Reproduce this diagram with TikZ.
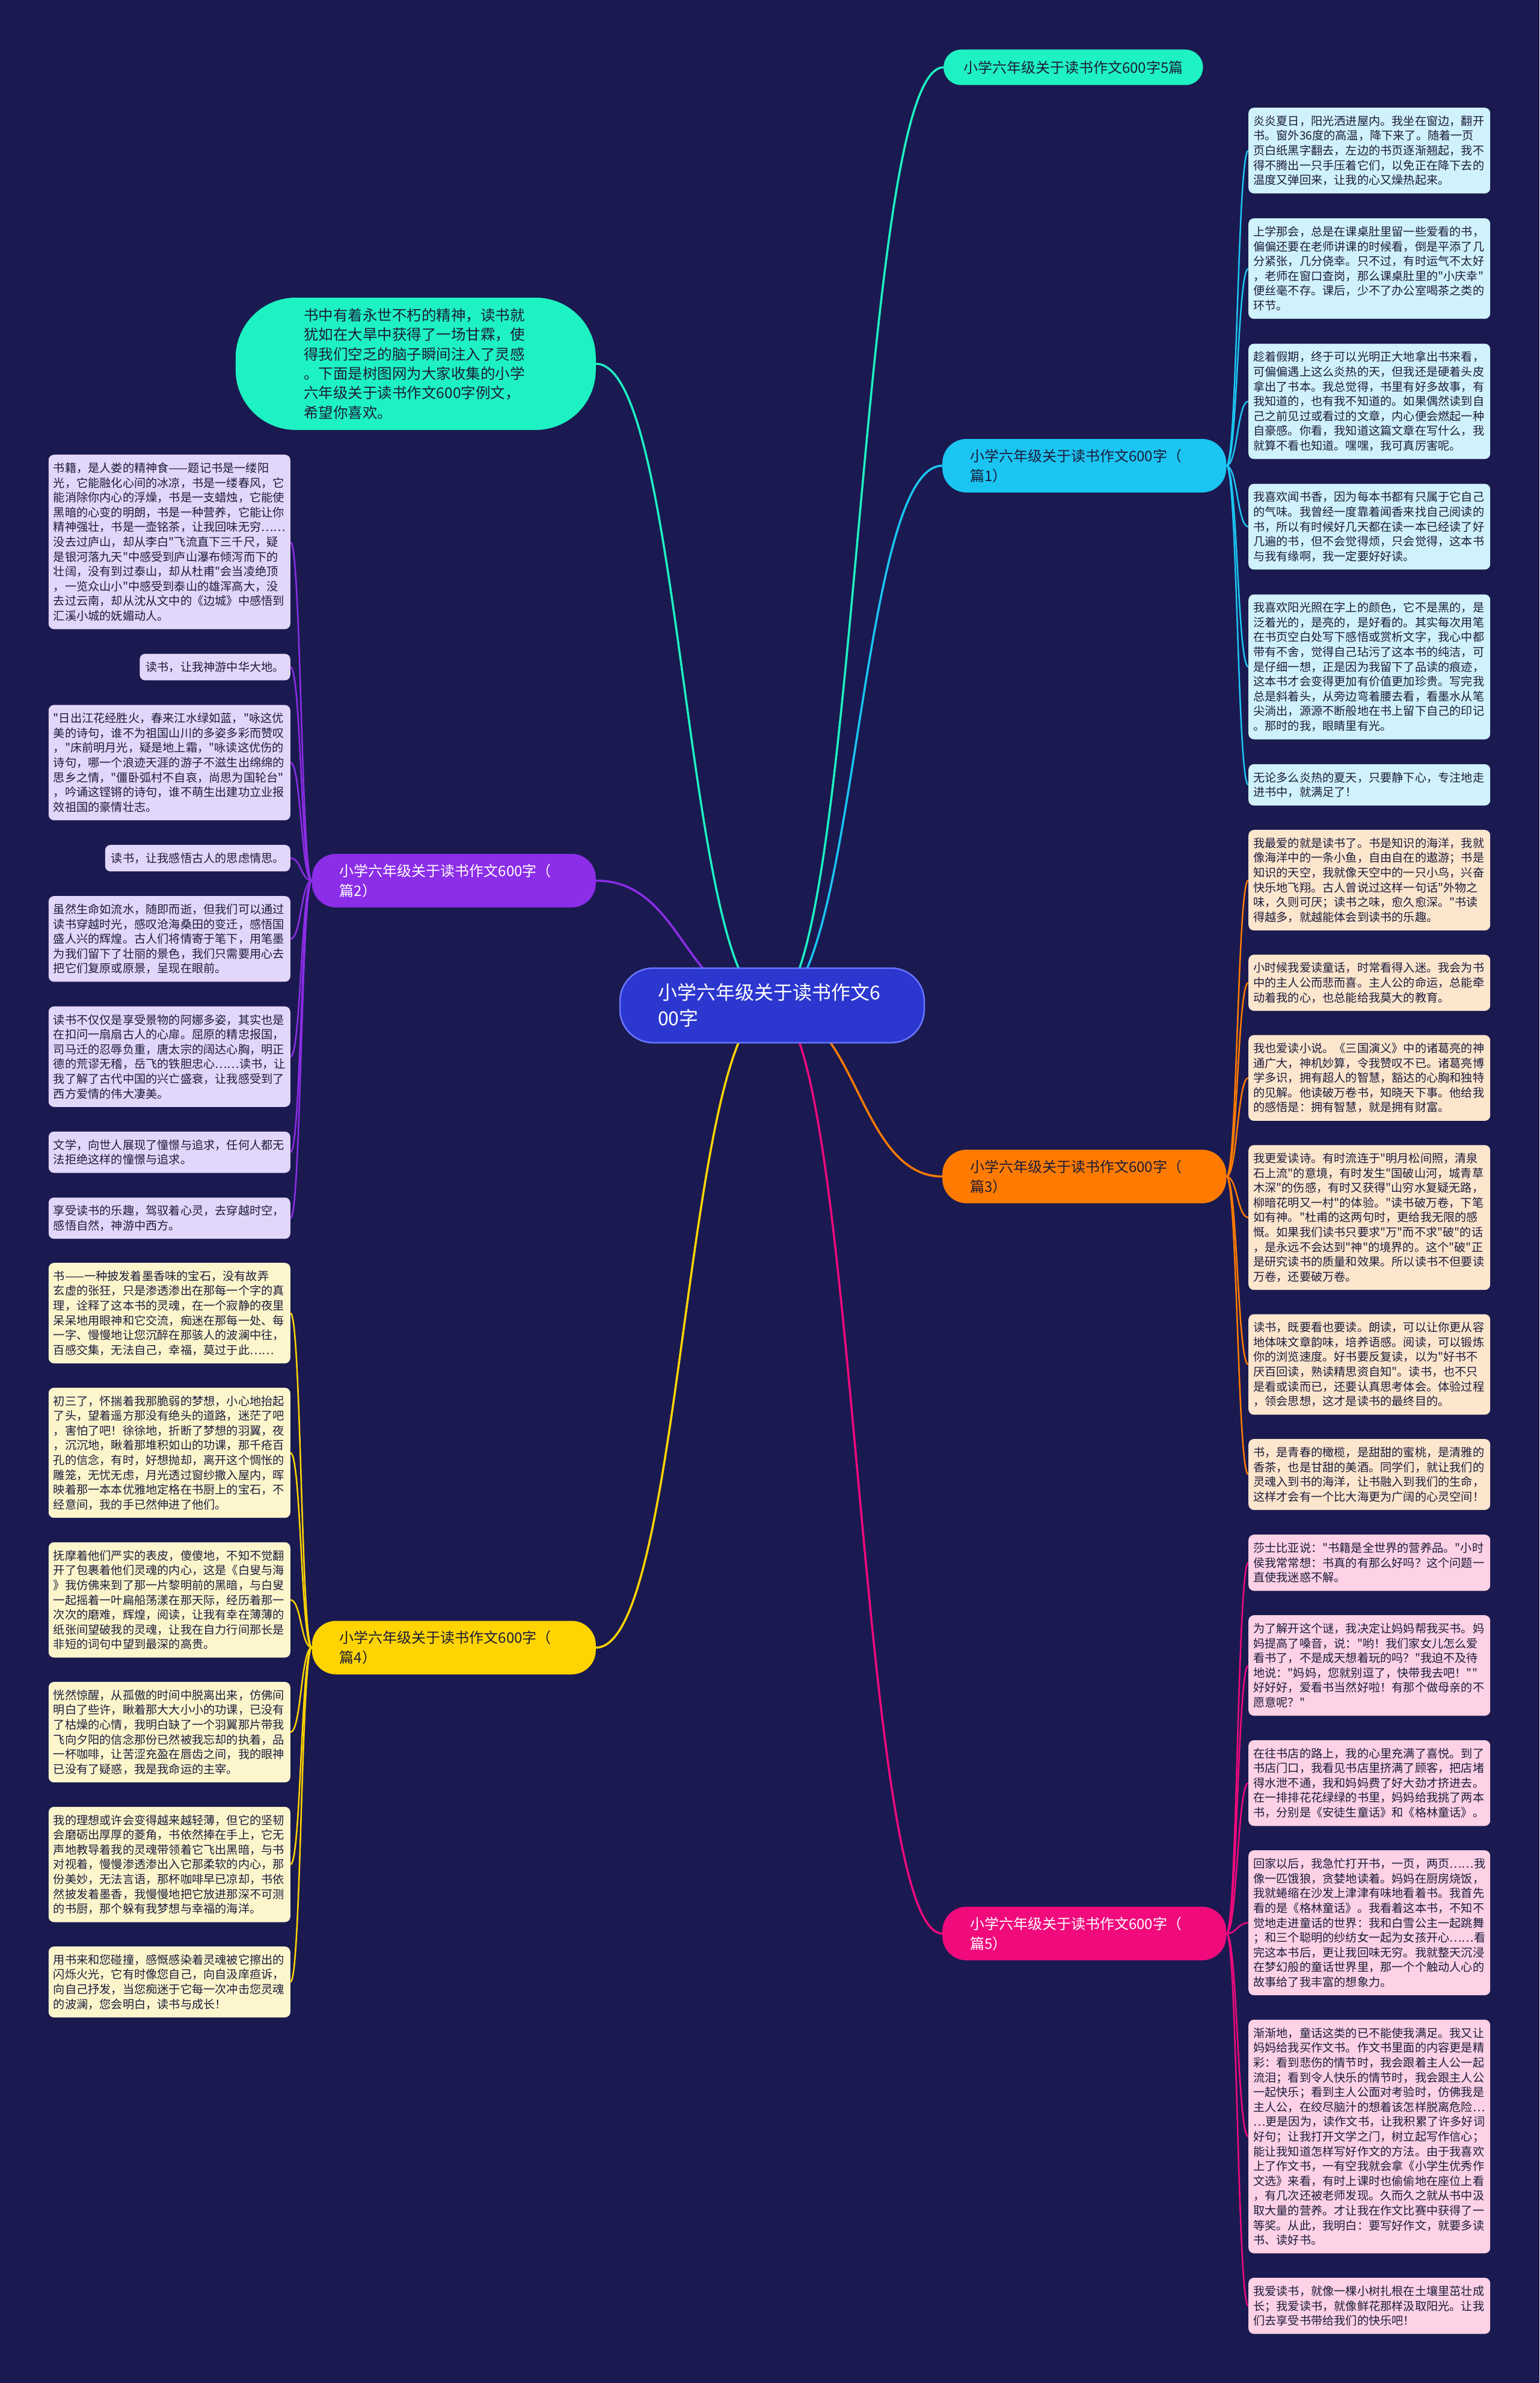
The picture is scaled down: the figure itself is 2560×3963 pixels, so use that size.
\documentclass[tikz,border=0pt]{standalone}
\usepackage{fontspec}
\setmainfont{Noto Sans CJK SC}[Ligatures=TeXOff]
\usetikzlibrary{calc}
\definecolor{bgc}{HTML}{1A1A50}
\definecolor{mintB}{HTML}{1EF2C3}
\definecolor{cyanB}{HTML}{1BC5F2}
\definecolor{purpleB}{HTML}{8C2DE8}
\definecolor{orangeB}{HTML}{FF7B00}
\definecolor{yellowB}{HTML}{FFD400}
\definecolor{magentaB}{HTML}{F00A7C}
\definecolor{rootB}{HTML}{2C37CF}
\definecolor{rootE}{HTML}{6A76FF}
\definecolor{cyanL}{HTML}{D0F2FC}
\definecolor{orangeL}{HTML}{FDE6CE}
\definecolor{pinkL}{HTML}{FDD1E6}
\definecolor{purpleL}{HTML}{E3D6FB}
\definecolor{yellowL}{HTML}{FDF6CD}
\definecolor{leaftext}{HTML}{1C1C3A}
\pgfdeclarelayer{bg}
\pgfsetlayers{bg,main}
\newcommand{\leaffont}{\fontsize{19.2}{24.6}\selectfont}
\newcommand{\branchfont}{\fontsize{24}{33}\selectfont}
\newcommand{\rootfont}{\fontsize{32}{43}\selectfont}
\newcommand{\introfont}{\fontsize{24.5}{32.3}\selectfont}
\newcommand{\myconn}[3]{\coordinate (tmpm) at ($(#2)!0.5!(#3)$);\draw[#1] (#2) .. controls (tmpm |- #2) and (tmpm |- #3) .. (#3);}
\tikzset{
  leaf/.style={rounded corners=9pt, text width=386pt, align=left, inner xsep=8pt, inner ysep=4pt, font=\leaffont, text=leaftext},
  leafshort/.style={rounded corners=9pt, align=left, inner xsep=10pt, inner ysep=4pt, font=\leaffont, text=leaftext},
  nl/.style={minimum height=24.6*#1+19.5},
  cleaf/.style={leaf, fill=cyanL, anchor=north west},
  oleaf/.style={leaf, fill=orangeL, anchor=north west},
  pleaf/.style={leaf, fill=pinkL, anchor=north west},
  uleaf/.style={leaf, fill=purpleL, anchor=north east},
  uleafshort/.style={leafshort, fill=purpleL, anchor=north east},
  yleaf/.style={leaf, fill=yellowL, anchor=north east},
  branch/.style={rounded corners=40pt, text width=380pt, align=left, inner xsep=46pt, inner ysep=4pt, minimum height=89pt, font=\branchfont},
  rootline/.style={line width=3.5pt},
  leafline/.style={line width=2.5pt},
}
\begin{document}
\begin{tikzpicture}[x=1pt,y=-1pt]
\useasboundingbox (0,0) rectangle (2560,3963);
\begin{pgfonlayer}{bg}
\fill[bgc] (0,0) rectangle (2560,3963);
\end{pgfonlayer}

% root
\node[rounded corners=55pt, fill=rootB, draw=rootE, line width=2.5pt, text=white, font=\rootfont, text width=380pt, align=left, inner xsep=63pt, inner ysep=4pt, minimum height=124pt] (root) at (1284,1672) {小学六年级关于读书作文6\\00字};

% intro bubble
\node[rounded corners=100pt, fill=mintB, text=leaftext, font=\introfont, text width=372pt, align=left, inner xsep=113.5pt, inner ysep=4pt, minimum height=220pt, anchor=east] (intro) at (991,605) {书中有着永世不朽的精神，读书就\\犹如在大旱中获得了一场甘霖，使\\得我们空乏的脑子瞬间注入了灵感\\。下面是树图网为大家收集的小学\\六年级关于读书作文600字例文，\\希望你喜欢。};

% branches
\node[rounded corners=29pt, fill=mintB, text=leaftext, font=\branchfont, inner xsep=33pt, inner ysep=4pt, minimum height=59pt, anchor=west] (b0) at (1569,112) {小学六年级关于读书作文600字5篇};
\node[branch, fill=cyanB, text=leaftext, anchor=west] (b1) at (1567,774.5) {小学六年级关于读书作文600字（\\篇1）};
\node[branch, fill=purpleB, text=white, anchor=east] (b2) at (991,1464.5) {小学六年级关于读书作文600字（\\篇2）};
\node[branch, fill=orangeB, text=leaftext, anchor=west] (b3) at (1567,1956.5) {小学六年级关于读书作文600字（\\篇3）};
\node[branch, fill=yellowB, text=leaftext, anchor=east] (b4) at (991,2740) {小学六年级关于读书作文600字（\\篇4）};
\node[branch, fill=magentaB, text=white, anchor=west] (b5) at (1567,3215.5) {小学六年级关于读书作文600字（\\篇5）};

% cyan leaves
\node[cleaf, nl=5] (c1) at (2076,179) {炎炎夏日，阳光洒进屋内。我坐在窗边，翻开\\书。窗外36度的高温，降下来了。随着一页\\页白纸黑字翻去，左边的书页逐渐翘起，我不\\得不腾出一只手压着它们，以免正在降下去的\\温度又弹回来，让我的心又燥热起来。};
\node[cleaf, nl=6] (c2) at ($(c1.south west)+(0,41)$) {上学那会，总是在课桌肚里留一些爱看的书，\\偏偏还要在老师讲课的时候看，倒是平添了几\\分紧张，几分侥幸。只不过，有时运气不太好\\，老师在窗口查岗，那么课桌肚里的"小庆幸"\\便丝毫不存。课后，少不了办公室喝茶之类的\\环节。};
\node[cleaf, nl=7] (c3) at ($(c2.south west)+(0,41)$) {趁着假期，终于可以光明正大地拿出书来看，\\可偏偏遇上这么炎热的天，但我还是硬着头皮\\拿出了书本。我总觉得，书里有好多故事，有\\我知道的，也有我不知道的。如果偶然读到自\\己之前见过或看过的文章，内心便会燃起一种\\自豪感。你看，我知道这篇文章在写什么，我\\就算不看也知道。嘿嘿，我可真厉害呢。};
\node[cleaf, nl=5] (c4) at ($(c3.south west)+(0,41)$) {我喜欢闻书香，因为每本书都有只属于它自己\\的气味。我曾经一度靠着闻香来找自己阅读的\\书，所以有时候好几天都在读一本已经读了好\\几遍的书，但不会觉得烦，只会觉得，这本书\\与我有缘啊，我一定要好好读。};
\node[cleaf, nl=9] (c5) at ($(c4.south west)+(0,41)$) {我喜欢阳光照在字上的颜色，它不是黑的，是\\泛着光的，是亮的，是好看的。其实每次用笔\\在书页空白处写下感悟或赏析文字，我心中都\\带有不舍，觉得自己玷污了这本书的纯洁，可\\是仔细一想，正是因为我留下了品读的痕迹，\\这本书才会变得更加有价值更加珍贵。写完我\\总是斜着头，从旁边弯着腰去看，看墨水从笔\\尖淌出，源源不断般地在书上留下自己的印记\\。那时的我，眼睛里有光。};
\node[cleaf, nl=2] (c6) at ($(c5.south west)+(0,41)$) {无论多么炎热的夏天，只要静下心，专注地走\\进书中，就满足了！};

% orange leaves
\node[oleaf, nl=6] (o1) at (2076,1380) {我最爱的就是读书了。书是知识的海洋，我就\\像海洋中的一条小鱼，自由自在的遨游；书是\\知识的天空，我就像天空中的一只小鸟，兴奋\\快乐地飞翔。古人曾说过这样一句话"外物之\\味，久则可厌；读书之味，愈久愈深。"书读\\得越多，就越能体会到读书的乐趣。};
\node[oleaf, nl=3] (o2) at ($(o1.south west)+(0,40)$) {小时候我爱读童话，时常看得入迷。我会为书\\中的主人公而悲而喜。主人公的命运，总能牵\\动着我的心，也总能给我莫大的教育。};
\node[oleaf, nl=5] (o3) at ($(o2.south west)+(0,40)$) {我也爱读小说。《三国演义》中的诸葛亮的神\\通广大，神机妙算，令我赞叹不已。诸葛亮博\\学多识，拥有超人的智慧，豁达的心胸和独特\\的见解。他读破万卷书，知晓天下事。他给我\\的感悟是：拥有智慧，就是拥有财富。};
\node[oleaf, nl=9] (o4) at ($(o3.south west)+(0,40)$) {我更爱读诗。有时流连于"明月松间照，清泉\\石上流"的意境，有时发生"国破山河，城青草\\木深"的伤感，有时又获得"山穷水复疑无路，\\柳暗花明又一村"的体验。"读书破万卷，下笔\\如有神。"杜甫的这两句时，更给我无限的感\\慨。如果我们读书只要求"万"而不求"破"的话\\，是永远不会达到"神"的境界的。这个"破"正\\是研究读书的质量和效果。所以读书不但要读\\万卷，还要破万卷。};
\node[oleaf, nl=6] (o5) at ($(o4.south west)+(0,40)$) {读书，既要看也要读。朗读，可以让你更从容\\地体味文章韵味，培养语感。阅读，可以锻炼\\你的浏览速度。好书要反复读，以为"好书不\\厌百回读，熟读精思资自知"。读书，也不只\\是看或读而已，还要认真思考体会。体验过程\\，领会思想，这才是读书的最终目的。};
\node[oleaf, nl=4] (o6) at ($(o5.south west)+(0,40)$) {书，是青春的橄榄，是甜甜的蜜桃，是清雅的\\香茶，也是甘甜的美酒。同学们，就让我们的\\灵魂入到书的海洋，让书融入到我们的生命，\\这样才会有一个比大海更为广阔的心灵空间！};

% pink leaves
\node[pleaf, nl=3] (p1) at (2076,2552) {莎士比亚说："书籍是全世界的营养品。"小时\\侯我常常想：书真的有那么好吗？这个问题一\\直使我迷惑不解。};
\node[pleaf, nl=6] (p2) at ($(p1.south west)+(0,40.3)$) {为了解开这个谜，我决定让妈妈帮我买书。妈\\妈提高了嗓音，说："哟！我们家女儿怎么爱\\看书了，不是成天想着玩的吗？"我迫不及待\\地说："妈妈，您就别逗了，快带我去吧！""\\好好好，爱看书当然好啦！有那个做母亲的不\\愿意呢？"};
\node[pleaf, nl=5] (p3) at ($(p2.south west)+(0,40.3)$) {在往书店的路上，我的心里充满了喜悦。到了\\书店门口，我看见书店里挤满了顾客，把店堵\\得水泄不通，我和妈妈费了好大劲才挤进去。\\在一排排花花绿绿的书里，妈妈给我挑了两本\\书，分别是《安徒生童话》和《格林童话》。};
\node[pleaf, nl=9] (p4) at ($(p3.south west)+(0,40.3)$) {回家以后，我急忙打开书，一页，两页……我\\像一匹饿狼，贪婪地读着。妈妈在厨房烧饭，\\我就蜷缩在沙发上津津有味地看着书。我首先\\看的是《格林童话》。我看着这本书，不知不\\觉地走进童话的世界：我和白雪公主一起跳舞\\；和三个聪明的纱纺女一起为女孩开心……看\\完这本书后，更让我回味无穷。我就整天沉浸\\在梦幻般的童话世界里，那一个个触动人心的\\故事给了我丰富的想象力。};
\node[pleaf, nl=15] (p5) at ($(p4.south west)+(0,40.3)$) {渐渐地，童话这类的已不能使我满足。我又让\\妈妈给我买作文书。作文书里面的内容更是精\\彩：看到悲伤的情节时，我会跟着主人公一起\\流泪；看到令人快乐的情节时，我会跟主人公\\一起快乐；看到主人公面对考验时，仿佛我是\\主人公，在绞尽脑汁的想着该怎样脱离危险…\\…更是因为，读作文书，让我积累了许多好词\\好句；让我打开文学之门，树立起写作信心；\\能让我知道怎样写好作文的方法。由于我喜欢\\上了作文书，一有空我就会拿《小学生优秀作\\文选》来看，有时上课时也偷偷地在座位上看\\，有几次还被老师发现。久而久之就从书中汲\\取大量的营养。才让我在作文比赛中获得了一\\等奖。从此，我明白：要写好作文，就要多读\\书、读好书。};
\node[pleaf, nl=3] (p6) at ($(p5.south west)+(0,40.3)$) {我爱读书，就像一棵小树扎根在土壤里茁壮成\\长；我爱读书，就像鲜花那样汲取阳光。让我\\们去享受书带给我们的快乐吧！};

% purple leaves
\node[uleaf, nl=11] (u1) at (483,756) {书籍，是人娄的精神食——题记书是一缕阳\\光，它能融化心间的冰凉，书是一缕春风，它\\能消除你内心的浮燥，书是一支蜡烛，它能使\\黑暗的心变的明朗，书是一种营养，它能让你\\精神强壮，书是一壶铭茶，让我回味无穷……\\没去过庐山，却从李白"飞流直下三千尺，疑\\是银河落九天"中感受到庐山瀑布倾泻而下的\\壮阔，没有到过泰山，却从杜甫"会当凌绝顶\\，一览众山小"中感受到泰山的雄浑高大，没\\去过云南，却从沈从文中的《边城》中感悟到\\汇溪小城的妩媚动人。};
\node[uleafshort, nl=1] (u2) at ($(u1.south east)+(0,40.6)$) {读书，让我神游中华大地。};
\node[uleaf, nl=7] (u3) at ($(u2.south east)+(0,40.6)$) {"日出江花经胜火，春来江水绿如蓝，"咏这优\\美的诗句，谁不为祖国山川的多姿多彩而赞叹\\，"床前明月光，疑是地上霜，"咏读这优伤的\\诗句，哪一个浪迹天涯的游子不滋生出绵绵的\\思乡之情，"僵卧弧村不自哀，尚思为国轮台"\\，吟诵这铿锵的诗句，谁不萌生出建功立业报\\效祖国的豪情壮志。};
\node[uleafshort, nl=1] (u4) at ($(u3.south east)+(0,40.6)$) {读书，让我感悟古人的思虑情思。};
\node[uleaf, nl=5] (u5) at ($(u4.south east)+(0,40.6)$) {虽然生命如流水，随即而逝，但我们可以通过\\读书穿越时光，感叹沧海桑田的变迁，感悟国\\盛人兴的辉煌。古人们将情寄于笔下，用笔墨\\为我们留下了壮丽的景色，我们只需要用心去\\把它们复原或原景，呈现在眼前。};
\node[uleaf, nl=6] (u6) at ($(u5.south east)+(0,40.6)$) {读书不仅仅是享受景物的阿娜多姿，其实也是\\在扣问一扇扇古人的心扉。屈原的精忠报国，\\司马迁的忍辱负重，唐太宗的阔达心胸，明正\\德的荒谬无稽，岳飞的铁胆忠心……读书，让\\我了解了古代中国的兴亡盛衰，让我感受到了\\西方爱情的伟大凄美。};
\node[uleaf, nl=2] (u7) at ($(u6.south east)+(0,40.6)$) {文学，向世人展现了憧憬与追求，任何人都无\\法拒绝这样的憧憬与追求。};
\node[uleaf, nl=2] (u8) at ($(u7.south east)+(0,40.6)$) {享受读书的乐趣，驾驭着心灵，去穿越时空，\\感悟自然，神游中西方。};

% yellow leaves
\node[yleaf, nl=6] (y1) at (483,2100) {书——一种披发着墨香味的宝石，没有故弄\\玄虚的张狂，只是渗透渗出在那每一个字的真\\理，诠释了这本书的灵魂，在一个寂静的夜里\\呆呆地用眼神和它交流，痴迷在那每一处、每\\一字、慢慢地让您沉醉在那骇人的波澜中往，\\百感交集，无法自己，幸福，莫过于此……};
\node[yleaf, nl=8] (y2) at ($(y1.south east)+(0,40.2)$) {初三了，怀揣着我那脆弱的梦想，小心地抬起\\了头，望着遥方那没有绝头的道路，迷茫了吧\\，害怕了吧！徐徐地，折断了梦想的羽翼，夜\\，沉沉地，瞅着那堆积如山的功课，那千疮百\\孔的信念，有时，好想抛却，离开这个惆怅的\\雕笼，无忧无虑，月光透过窗纱撒入屋内，晖\\映着那一本本优雅地定格在书厨上的宝石，不\\经意间，我的手已然伸进了他们。};
\node[yleaf, nl=7] (y3) at ($(y2.south east)+(0,40.2)$) {抚摩着他们严实的表皮，傻傻地，不知不觉翻\\开了包裹着他们灵魂的内心，这是《白叟与海\\》我仿佛来到了那一片黎明前的黑暗，与白叟\\一起摇着一叶扁船荡漾在那天际，经历着那一\\次次的磨难，辉煌，阅读，让我有幸在薄薄的\\纸张间望破我的灵魂，让我在自力行间那长是\\非短的词句中望到最深的高贵。};
\node[yleaf, nl=6] (y4) at ($(y3.south east)+(0,40.2)$) {恍然惊醒，从孤傲的时间中脱离出来，仿佛间\\明白了些许，瞅着那大大小小的功课，已没有\\了枯燥的心情，我明白缺了一个羽翼那片带我\\飞向夕阳的信念那份已然被我忘却的执着，品\\一杯咖啡，让苦涩充盈在唇齿之间，我的眼神\\已没有了疑惑，我是我命运的主宰。};
\node[yleaf, nl=7] (y5) at ($(y4.south east)+(0,40.2)$) {我的理想或许会变得越来越轻薄，但它的坚韧\\会磨砺出厚厚的菱角，书依然捧在手上，它无\\声地教导着我的灵魂带领着它飞出黑暗，与书\\对视着，慢慢渗透渗出入它那柔软的内心，那\\份美妙，无法言语，那杯咖啡早已凉却，书依\\然披发着墨香，我慢慢地把它放进那深不可测\\的书厨，那个躲有我梦想与幸福的海洋。};
\node[yleaf, nl=4] (y6) at ($(y5.south east)+(0,40.2)$) {用书来和您碰撞，感慨感染着灵魂被它擦出的\\闪烁火光，它有时像您自己，向自汲庠疸诉，\\向自己抒发，当您痴迷于它每一次冲击您灵魂\\的波澜，您会明白，读书与成长！};

% connectors
\begin{pgfonlayer}{bg}
\myconn{rootline,mintB}{root.center}{intro.east}
\myconn{rootline,mintB}{root.center}{b0.west}
\myconn{rootline,cyanB}{root.center}{b1.west}
\myconn{rootline,purpleB}{root.center}{b2.east}
\myconn{rootline,orangeB}{root.center}{b3.west}
\myconn{rootline,yellowB}{root.center}{b4.east}
\myconn{rootline,magentaB}{root.center}{b5.west}
\foreach \n in {c1,c2,c3,c4,c5,c6} {\myconn{leafline,cyanB}{b1.east}{\n.west}}
\foreach \n in {o1,o2,o3,o4,o5,o6} {\myconn{leafline,orangeB}{b3.east}{\n.west}}
\foreach \n in {p1,p2,p3,p4,p5,p6} {\myconn{leafline,magentaB}{b5.east}{\n.west}}
\foreach \n in {u1,u2,u3,u4,u5,u6,u7,u8} {\myconn{leafline,purpleB}{b2.west}{\n.east}}
\foreach \n in {y1,y2,y3,y4,y5,y6} {\myconn{leafline,yellowB}{b4.west}{\n.east}}
\end{pgfonlayer}
\end{tikzpicture}
\end{document}
